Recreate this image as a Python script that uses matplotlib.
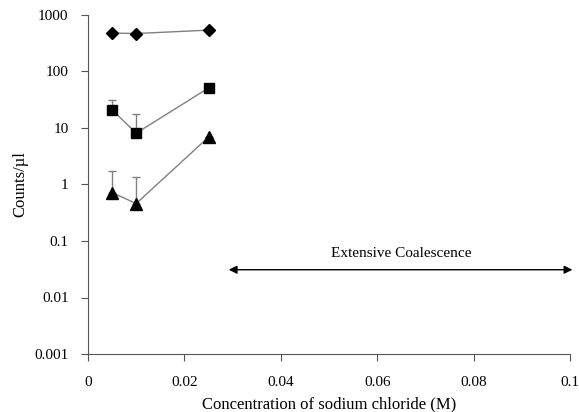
import matplotlib
matplotlib.use("Agg")
import matplotlib.pyplot as plt
import numpy as np

plt.rcParams['font.family'] = ['Liberation Serif', 'DejaVu Serif']

conc = [0.005, 0.01, 0.025]
diamond = [480, 470, 540]
square = [21, 8.1, 51]
square_err_up = [10, 9.5, 0]
triangle = [0.72, 0.46, 6.9]
triangle_err_up = [1.0, 0.92, 0]

arrow_x = [0.0292, 0.1005]
arrow_y = 0.031
label_text = "Extensive Coalescence"

fig = plt.figure(figsize=(5.79, 4.12), dpi=100)
ax = fig.add_axes([88/579, 1-354/412, (570-88)/579, (354-15)/412])

lc = '#808080'
ax.plot(conc, diamond, color=lc, lw=1, zorder=2)
ax.plot(conc, diamond, 'D', color='black', ms=6, zorder=3)

ax.errorbar(conc, square, yerr=[np.zeros(3), square_err_up], fmt='none',
            ecolor=lc, elinewidth=1, capsize=3, zorder=1)
ax.plot(conc, square, color=lc, lw=1, zorder=2)
ax.plot(conc, square, 's', color='black', ms=7, zorder=3)

ax.errorbar(conc, triangle, yerr=[np.zeros(3), triangle_err_up], fmt='none',
            ecolor=lc, elinewidth=1, capsize=3, zorder=1)
ax.plot(conc, triangle, color=lc, lw=1, zorder=2)
ax.plot(conc, triangle, '^', color='black', ms=8, zorder=3)

ax.annotate('', xy=(arrow_x[0], arrow_y), xytext=(arrow_x[1], arrow_y),
            arrowprops=dict(arrowstyle='<|-|>', color='black', lw=1,
                            mutation_scale=12, shrinkA=0, shrinkB=0),
            annotation_clip=False)
ax.text(0.065, arrow_y*1.5, label_text, ha='center',
        va='bottom', fontsize=11)

ax.set_yscale('log')
ax.set_ylim(0.001, 1000)
ax.set_xlim(0, 0.1)
ax.set_yticks([0.001, 0.01, 0.1, 1, 10, 100, 1000])
ax.set_yticklabels(['0.001', '0.01', '0.1', '1', '10', '100', '1000'])
ax.minorticks_off()
ax.set_xticks([0, 0.02, 0.04, 0.06, 0.08, 0.1])
ax.set_xticklabels(['0', '0.02', '0.04', '0.06', '0.08', '0.1'])
ax.tick_params(labelsize=11, color='#555555', length=5, width=0.8)
ax.tick_params(axis='x', pad=11)
ax.tick_params(axis='y', pad=9)
for s in ['top', 'right']:
    ax.spines[s].set_visible(False)
for s in ['left', 'bottom']:
    ax.spines[s].set_color('#555555')
ax.set_xlabel('Concentration of sodium chloride (M)', fontsize=12, labelpad=5)
ax.set_ylabel('Counts/µl', fontsize=12, labelpad=4)

fig.savefig('out.png', dpi=100)
